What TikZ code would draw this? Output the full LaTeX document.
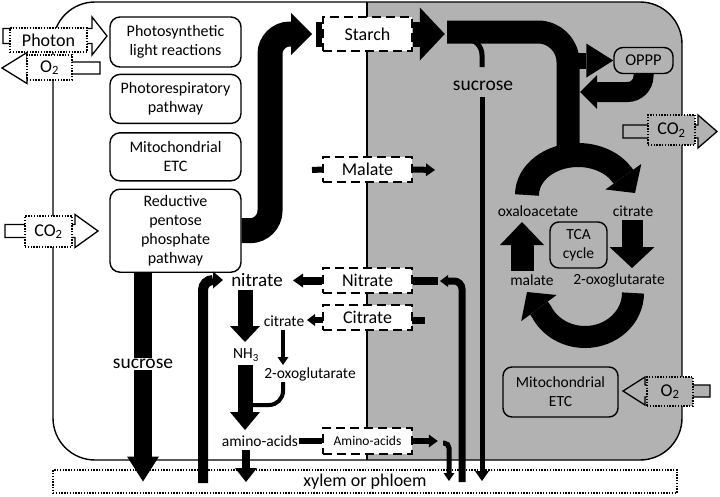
\documentclass[tikz,border=0pt]{standalone}
\usepackage{fontspec}
\setmainfont{Carlito}
\usetikzlibrary{arrows.meta,positioning}

\newcommand{\gasarrow}[7]{%
  \draw[line width=1.3pt,fill=#7] (#1,#4-#5) -- (#2,#4-#5) -- (#2,#4-#6) -- (#3,#4)
    -- (#2,#4+#6) -- (#2,#4+#5) -- (#1,#4+#5) -- cycle;}

\begin{document}
\begin{tikzpicture}[x=1pt,y=-1pt,
  every node/.style={font=\fontsize{15.5}{19}\selectfont,inner sep=1pt},
  pathwaybox/.style={draw,line width=1.4pt,rounded corners=10pt,fill=white,align=center,minimum width=131pt,font=\fontsize{16}{19}\selectfont},
  cellbox/.style={draw,line width=1.4pt,rounded corners=9pt,fill=black!30,align=center},
  transbox/.style={draw,line width=1.6pt,dash pattern=on 9pt off 5pt,fill=white,minimum width=89pt,minimum height=25pt,font=\fontsize{18}{20}\selectfont},
  gasbox/.style={draw,line width=1.4pt,dash pattern=on 1.4pt off 1.4pt,fill=white,font=\fontsize{18}{20}\selectfont},
  flow/.style n args={3}{line width=#1pt,-{Triangle[length=#2pt,width=#3pt,line width=0pt]}},
  stub/.style={line width=#1pt}]
\useasboundingbox (0,0) rectangle (720,496);
\begin{scope}
  \clip[rounded corners=42pt] (53,2) rectangle (682,460);
  \fill[black!30] (367,0) rectangle (700,470);
\end{scope}
\draw[line width=1.2pt] (367,2) -- (367,460);
\draw[line width=1.4pt,rounded corners=42pt] (53,2) rectangle (682,460);
\node[gasbox,minimum width=624pt,minimum height=23pt] (xylem) at (365,481.5) {xylem or phloem};

\gasarrow{3}{92}{107}{36}{7.5}{19}{white}
\node[gasbox,minimum width=77pt,minimum height=24pt] (photon) at (48.5,40) {Photon};
\gasarrow{100}{27}{2}{68}{6}{15.5}{white}
\node[gasbox,minimum width=45pt,minimum height=25pt] (o2out) at (49.5,67.5) {O\textsubscript{2}};
\gasarrow{5}{75}{98}{231}{6.5}{16.5}{white}
\node[gasbox,minimum width=47pt,minimum height=31pt] (co2in) at (48.5,231.5) {CO\textsubscript{2}};
\gasarrow{623}{698}{717}{131.5}{6.5}{16.5}{black!30}
\node[gasbox,fill=black!30,minimum width=47pt,minimum height=30pt] (co2out) at (671.5,130) {CO\textsubscript{2}};
\gasarrow{710}{645}{623}{391}{6}{14}{black!30}
\node[gasbox,fill=black!30,minimum width=46pt,minimum height=29pt] (o2in) at (670,391.5) {O\textsubscript{2}};

\node[pathwaybox,minimum height=50pt] (light) at (175.5,42) {Photosynthetic\\light reactions};
\node[pathwaybox,minimum height=49pt,below=6pt of light] (resp) {Photorespiratory\\pathway};
\node[pathwaybox,minimum height=48pt,below=8pt of resp] (mitoL) {Mitochondrial\\ETC};
\node[pathwaybox,minimum height=83pt,below=7pt of mitoL] (rpp) {Reductive\\pentose\\phosphate\\pathway};

\node[transbox,minimum height=34pt] (starch) at (367.5,34) {Starch};
\node[transbox] (malate) at (367.5,169.5) {Malate};
\node[transbox] (nitrateT) at (367.5,280.5) {Nitrate};
\node[transbox] (citrateT) at (367.5,317.5) {Citrate};
\node[transbox,minimum height=26pt,font=\fontsize{13.5}{15}\selectfont] (aminoT) at (367.5,441) {Amino-acids};

\node[font=\fontsize{19}{21}\selectfont] (nitrate) at (257,280) {nitrate};
\node (citrate) at (284,321) {citrate};
\node (nh3) at (246,355) {NH\textsubscript{3}};
\node (oxo) at (310,374) {2-oxoglutarate};
\node (amino) at (260,441) {amino-acids};
\node[font=\fontsize{19.5}{21}\selectfont] (sucL) at (143,364) {sucrose};
\node[font=\fontsize{19.5}{21}\selectfont] (sucR) at (483,86) {sucrose};

\node[cellbox,minimum width=59pt,minimum height=26pt,font=\fontsize{16.5}{19}\selectfont] (oppp) at (643.5,60.5) {OPPP};
\node (oaa) at (538,211) {oxaloacetate};
\node (citR) at (633,211) {citrate};
\node (malR) at (532,280) {malate};
\node (oxoR) at (619,280) {2-oxoglutarate};
\node[cellbox,minimum width=57pt,minimum height=46pt] (tca) at (578.5,245) {TCA\\cycle};
\node[cellbox,minimum width=115pt,minimum height=50pt] (mitoR) at (560.5,392) {Mitochondrial\\ETC};

\draw[stub=25] ([xshift=-6pt]starch.west) -- (starch.west);
\draw[flow={25}{21}{42},rounded corners=20pt] (rpp.east) -| (270,34) -- ([xshift=-10pt]starch.west);
\draw[flow={25}{25}{53}] (starch.east) -- ++(32,0);
\draw[line width=23pt,rounded corners=30pt] (447,32) -| (568,160);
\draw[stub=5,rounded corners=16pt] (455,39) -| (482,67);
\draw[flow={5}{10}{14}] (482,97) -- (482,481);
\draw[flow={16}{27}{34}] (570,60.5) -- (oppp.west);
\draw[flow={20}{17}{34},rounded corners=16pt] (oppp.south) |- (580,92);

\draw[flow={24}{20}{44}] (527,195) arc[start angle=180,end angle=30,x radius=51pt,y radius=40pt] -- (635,193);
\draw[flow={22}{20}{44}] (633,293) arc[start angle=0,end angle=-155,x radius=48pt,y radius=44pt] -- (527,292);
\draw[flow={23}{23}{44}] (522,271) -- (522,222);
\draw[flow={21}{21}{45}] (632,220) -- (632,268);

\draw[stub=18] (rpp.south -| sucL) -- (sucL.north);
\draw[flow={18}{25}{32}] (sucL.south) -- (sucL |- xylem);
\draw[flow={10}{10}{17},rounded corners=10pt] (203,483) |- (223,280);
\draw[flow={15}{16}{30}] (245,290) -- (245,342);
\draw[flow={15}{18}{30}] (245,365) -- (245,430);
\draw[flow={8}{14}{22}] (246,450) -- (246,482);
\draw[flow={3.5}{8}{11}] (283,330) -- (283,365);
\draw[stub=4,rounded corners=14pt] (283,382) |- (252,405);

\draw[flow={8}{10}{14}] (nitrateT.west) -- (293,280.5);
\draw[stub=8] (nitrateT.east) -- ++(25,0);
\draw[flow={7}{8}{12},rounded corners=8pt] (462,482) |- (440,281);
\draw[flow={6}{8}{12}] (323,320) -- (307,320);
\draw[stub=7] (412,320) -- (425,320);
\draw[stub=6] (312,170) -- (malate.west);
\draw[flow={6}{9}{13}] (malate.east) -- (435,170);
\draw[stub=6] (amino.east) -- (aminoT.west);
\draw[flow={6}{9}{13}] (aminoT.east) -- ++(25,0);
\draw[flow={5}{8}{11},rounded corners=5pt] (443,443) -| (449,481);
\end{tikzpicture}
\end{document}
